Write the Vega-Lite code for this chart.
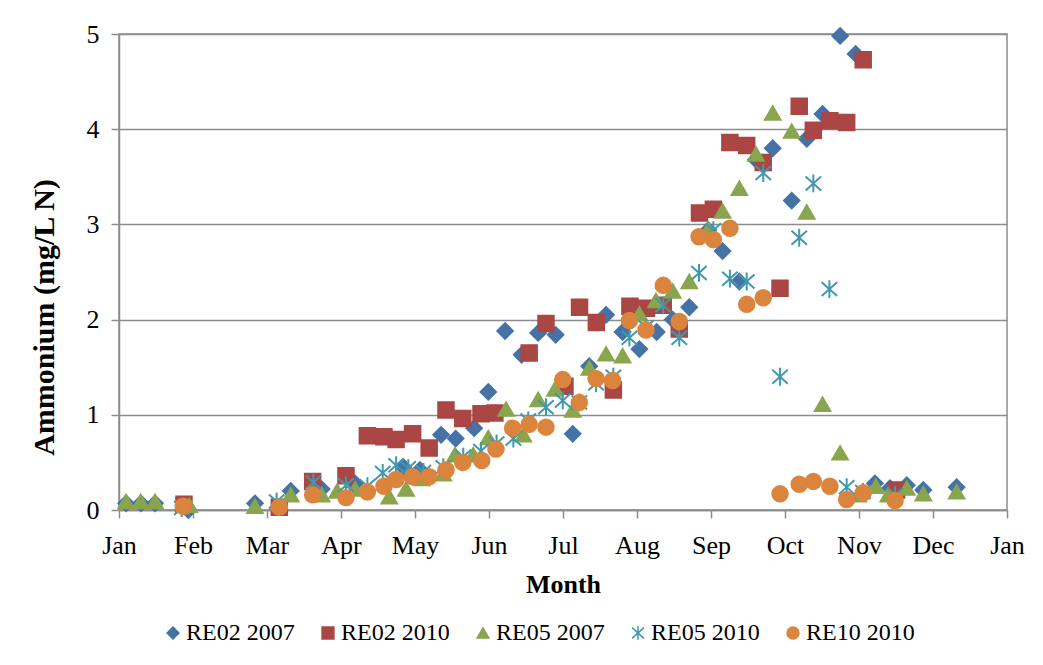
{
  "$schema": "https://vega.github.io/schema/vega-lite/v6.json",
  "width": 888,
  "height": 476,
  "autosize": {"type": "none"},
  "padding": {"left": 119, "top": 34, "right": 36, "bottom": 155},
  "background": "white",
  "config": {
    "font": "Liberation Serif",
    "style": {"guide-label": {"font": "Liberation Serif", "fill": "black"}, "guide-title": {"font": "Liberation Serif"}},
    "view": {"stroke": "#8c8c8c", "strokeWidth": 1.5},
    "axis": {"labelFont": "Liberation Serif", "titleFont": "Liberation Serif", "labelColor": "black", "titleColor": "black"},
    "legend": {"labelFont": "Liberation Serif", "labelFontSize": 24, "labelColor": "black"}
  },
  "datasets": {
    "pts": [
      {"series": "RE02 2007", "day": 2.9, "value": 0.07},
      {"series": "RE02 2007", "day": 9.0, "value": 0.07},
      {"series": "RE02 2007", "day": 14.8, "value": 0.07},
      {"series": "RE02 2007", "day": 28.5, "value": 0.0},
      {"series": "RE02 2007", "day": 55.9, "value": 0.07},
      {"series": "RE02 2007", "day": 70.6, "value": 0.20},
      {"series": "RE02 2007", "day": 83.3, "value": 0.22},
      {"series": "RE02 2007", "day": 97.0, "value": 0.28},
      {"series": "RE02 2007", "day": 116.9, "value": 0.45},
      {"series": "RE02 2007", "day": 123.7, "value": 0.42},
      {"series": "RE02 2007", "day": 132.4, "value": 0.79},
      {"series": "RE02 2007", "day": 138.4, "value": 0.75},
      {"series": "RE02 2007", "day": 146.0, "value": 0.86},
      {"series": "RE02 2007", "day": 151.8, "value": 1.24},
      {"series": "RE02 2007", "day": 158.7, "value": 1.88},
      {"series": "RE02 2007", "day": 165.5, "value": 1.63},
      {"series": "RE02 2007", "day": 172.3, "value": 1.86},
      {"series": "RE02 2007", "day": 179.5, "value": 1.84},
      {"series": "RE02 2007", "day": 186.5, "value": 0.80},
      {"series": "RE02 2007", "day": 193.3, "value": 1.51},
      {"series": "RE02 2007", "day": 200.2, "value": 2.05},
      {"series": "RE02 2007", "day": 207.0, "value": 1.87},
      {"series": "RE02 2007", "day": 213.9, "value": 1.69},
      {"series": "RE02 2007", "day": 221.0, "value": 1.87},
      {"series": "RE02 2007", "day": 227.6, "value": 2.00},
      {"series": "RE02 2007", "day": 234.4, "value": 2.13},
      {"series": "RE02 2007", "day": 242.2, "value": 2.94},
      {"series": "RE02 2007", "day": 248.1, "value": 2.72},
      {"series": "RE02 2007", "day": 255.0, "value": 2.40},
      {"series": "RE02 2007", "day": 261.8, "value": 3.68},
      {"series": "RE02 2007", "day": 268.7, "value": 3.80},
      {"series": "RE02 2007", "day": 276.5, "value": 3.25},
      {"series": "RE02 2007", "day": 282.7, "value": 3.90},
      {"series": "RE02 2007", "day": 289.2, "value": 4.16},
      {"series": "RE02 2007", "day": 296.4, "value": 4.98},
      {"series": "RE02 2007", "day": 302.8, "value": 4.79},
      {"series": "RE02 2007", "day": 310.7, "value": 0.28},
      {"series": "RE02 2007", "day": 316.9, "value": 0.23},
      {"series": "RE02 2007", "day": 323.8, "value": 0.26},
      {"series": "RE02 2007", "day": 330.6, "value": 0.21},
      {"series": "RE02 2007", "day": 344.3, "value": 0.24},

      {"series": "RE02 2010", "day": 26.7, "value": 0.06},
      {"series": "RE02 2010", "day": 65.9, "value": 0.03},
      {"series": "RE02 2010", "day": 79.6, "value": 0.30},
      {"series": "RE02 2010", "day": 93.3, "value": 0.36},
      {"series": "RE02 2010", "day": 102.1, "value": 0.78},
      {"series": "RE02 2010", "day": 108.9, "value": 0.77},
      {"series": "RE02 2010", "day": 113.9, "value": 0.74},
      {"series": "RE02 2010", "day": 120.7, "value": 0.80},
      {"series": "RE02 2010", "day": 127.5, "value": 0.65},
      {"series": "RE02 2010", "day": 134.4, "value": 1.05},
      {"series": "RE02 2010", "day": 141.3, "value": 0.96},
      {"series": "RE02 2010", "day": 148.8, "value": 1.01},
      {"series": "RE02 2010", "day": 154.5, "value": 1.02},
      {"series": "RE02 2010", "day": 168.6, "value": 1.65},
      {"series": "RE02 2010", "day": 175.5, "value": 1.96},
      {"series": "RE02 2010", "day": 183.3, "value": 1.30},
      {"series": "RE02 2010", "day": 189.3, "value": 2.13},
      {"series": "RE02 2010", "day": 196.2, "value": 1.97},
      {"series": "RE02 2010", "day": 203.2, "value": 1.26},
      {"series": "RE02 2010", "day": 210.0, "value": 2.14},
      {"series": "RE02 2010", "day": 216.8, "value": 2.12},
      {"series": "RE02 2010", "day": 223.7, "value": 2.15},
      {"series": "RE02 2010", "day": 230.3, "value": 1.90},
      {"series": "RE02 2010", "day": 238.6, "value": 3.12},
      {"series": "RE02 2010", "day": 244.3, "value": 3.16},
      {"series": "RE02 2010", "day": 251.1, "value": 3.86},
      {"series": "RE02 2010", "day": 258.0, "value": 3.83},
      {"series": "RE02 2010", "day": 264.8, "value": 3.65},
      {"series": "RE02 2010", "day": 271.7, "value": 2.33},
      {"series": "RE02 2010", "day": 279.6, "value": 4.24},
      {"series": "RE02 2010", "day": 285.4, "value": 3.99},
      {"series": "RE02 2010", "day": 292.2, "value": 4.09},
      {"series": "RE02 2010", "day": 299.1, "value": 4.07},
      {"series": "RE02 2010", "day": 305.9, "value": 4.73},
      {"series": "RE02 2010", "day": 319.6, "value": 0.21},

      {"series": "RE05 2007", "day": 2.9, "value": 0.09},
      {"series": "RE05 2007", "day": 8.9, "value": 0.09},
      {"series": "RE05 2007", "day": 14.8, "value": 0.09},
      {"series": "RE05 2007", "day": 28.9, "value": 0.05},
      {"series": "RE05 2007", "day": 55.9, "value": 0.04},
      {"series": "RE05 2007", "day": 70.6, "value": 0.16},
      {"series": "RE05 2007", "day": 83.3, "value": 0.16},
      {"series": "RE05 2007", "day": 89.7, "value": 0.20},
      {"series": "RE05 2007", "day": 97.0, "value": 0.22},
      {"series": "RE05 2007", "day": 111.1, "value": 0.14},
      {"series": "RE05 2007", "day": 118.0, "value": 0.22},
      {"series": "RE05 2007", "day": 124.4, "value": 0.33},
      {"series": "RE05 2007", "day": 133.3, "value": 0.38},
      {"series": "RE05 2007", "day": 138.1, "value": 0.58},
      {"series": "RE05 2007", "day": 145.6, "value": 0.58},
      {"series": "RE05 2007", "day": 151.8, "value": 0.76},
      {"series": "RE05 2007", "day": 159.1, "value": 1.06},
      {"series": "RE05 2007", "day": 166.2, "value": 0.79},
      {"series": "RE05 2007", "day": 172.3, "value": 1.16},
      {"series": "RE05 2007", "day": 179.2, "value": 1.27},
      {"series": "RE05 2007", "day": 186.5, "value": 1.05},
      {"series": "RE05 2007", "day": 193.3, "value": 1.49},
      {"series": "RE05 2007", "day": 200.2, "value": 1.64},
      {"series": "RE05 2007", "day": 207.0, "value": 1.62},
      {"series": "RE05 2007", "day": 213.9, "value": 2.06},
      {"series": "RE05 2007", "day": 220.7, "value": 2.20},
      {"series": "RE05 2007", "day": 227.6, "value": 2.30},
      {"series": "RE05 2007", "day": 234.4, "value": 2.40},
      {"series": "RE05 2007", "day": 242.2, "value": 2.95},
      {"series": "RE05 2007", "day": 248.1, "value": 3.14},
      {"series": "RE05 2007", "day": 255.0, "value": 3.38},
      {"series": "RE05 2007", "day": 261.8, "value": 3.74},
      {"series": "RE05 2007", "day": 268.7, "value": 4.17},
      {"series": "RE05 2007", "day": 276.5, "value": 3.98},
      {"series": "RE05 2007", "day": 282.7, "value": 3.13},
      {"series": "RE05 2007", "day": 289.2, "value": 1.11},
      {"series": "RE05 2007", "day": 296.4, "value": 0.60},
      {"series": "RE05 2007", "day": 303.9, "value": 0.16},
      {"series": "RE05 2007", "day": 311.1, "value": 0.25},
      {"series": "RE05 2007", "day": 316.2, "value": 0.16},
      {"series": "RE05 2007", "day": 323.8, "value": 0.23},
      {"series": "RE05 2007", "day": 330.6, "value": 0.17},
      {"series": "RE05 2007", "day": 344.3, "value": 0.19},

      {"series": "RE05 2010", "day": 25.8, "value": 0.02},
      {"series": "RE05 2010", "day": 64.8, "value": 0.09},
      {"series": "RE05 2010", "day": 79.9, "value": 0.29},
      {"series": "RE05 2010", "day": 93.3, "value": 0.26},
      {"series": "RE05 2010", "day": 102.1, "value": 0.25},
      {"series": "RE05 2010", "day": 108.4, "value": 0.39},
      {"series": "RE05 2010", "day": 113.9, "value": 0.47},
      {"series": "RE05 2010", "day": 118.9, "value": 0.44},
      {"series": "RE05 2010", "day": 125.1, "value": 0.40},
      {"series": "RE05 2010", "day": 133.3, "value": 0.45},
      {"series": "RE05 2010", "day": 141.5, "value": 0.56},
      {"series": "RE05 2010", "day": 148.8, "value": 0.62},
      {"series": "RE05 2010", "day": 155.2, "value": 0.70},
      {"series": "RE05 2010", "day": 162.1, "value": 0.75},
      {"series": "RE05 2010", "day": 168.2, "value": 0.94},
      {"series": "RE05 2010", "day": 175.5, "value": 1.08},
      {"series": "RE05 2010", "day": 182.4, "value": 1.15},
      {"series": "RE05 2010", "day": 189.2, "value": 1.13},
      {"series": "RE05 2010", "day": 196.1, "value": 1.33},
      {"series": "RE05 2010", "day": 203.2, "value": 1.40},
      {"series": "RE05 2010", "day": 209.8, "value": 1.81},
      {"series": "RE05 2010", "day": 216.6, "value": 1.92},
      {"series": "RE05 2010", "day": 223.7, "value": 2.15},
      {"series": "RE05 2010", "day": 230.3, "value": 1.81},
      {"series": "RE05 2010", "day": 238.4, "value": 2.49},
      {"series": "RE05 2010", "day": 244.3, "value": 2.94},
      {"series": "RE05 2010", "day": 251.1, "value": 2.43},
      {"series": "RE05 2010", "day": 258.0, "value": 2.40},
      {"series": "RE05 2010", "day": 264.8, "value": 3.54},
      {"series": "RE05 2010", "day": 271.7, "value": 1.40},
      {"series": "RE05 2010", "day": 279.6, "value": 2.86},
      {"series": "RE05 2010", "day": 285.4, "value": 3.43},
      {"series": "RE05 2010", "day": 292.0, "value": 2.32},
      {"series": "RE05 2010", "day": 299.1, "value": 0.24},
      {"series": "RE05 2010", "day": 305.8, "value": 0.19},
      {"series": "RE05 2010", "day": 319.0, "value": 0.16},

      {"series": "RE10 2010", "day": 26.4, "value": 0.04},
      {"series": "RE10 2010", "day": 65.9, "value": 0.03},
      {"series": "RE10 2010", "day": 79.6, "value": 0.16},
      {"series": "RE10 2010", "day": 93.3, "value": 0.13},
      {"series": "RE10 2010", "day": 102.1, "value": 0.19},
      {"series": "RE10 2010", "day": 108.9, "value": 0.25},
      {"series": "RE10 2010", "day": 113.9, "value": 0.32},
      {"series": "RE10 2010", "day": 120.7, "value": 0.35},
      {"series": "RE10 2010", "day": 127.5, "value": 0.35},
      {"series": "RE10 2010", "day": 134.4, "value": 0.42},
      {"series": "RE10 2010", "day": 141.3, "value": 0.50},
      {"series": "RE10 2010", "day": 149.1, "value": 0.52},
      {"series": "RE10 2010", "day": 154.9, "value": 0.64},
      {"series": "RE10 2010", "day": 161.8, "value": 0.86},
      {"series": "RE10 2010", "day": 168.6, "value": 0.90},
      {"series": "RE10 2010", "day": 175.5, "value": 0.87},
      {"series": "RE10 2010", "day": 182.4, "value": 1.37},
      {"series": "RE10 2010", "day": 189.2, "value": 1.13},
      {"series": "RE10 2010", "day": 196.1, "value": 1.38},
      {"series": "RE10 2010", "day": 202.9, "value": 1.36},
      {"series": "RE10 2010", "day": 209.8, "value": 1.99},
      {"series": "RE10 2010", "day": 216.6, "value": 1.89},
      {"series": "RE10 2010", "day": 223.7, "value": 2.36},
      {"series": "RE10 2010", "day": 230.3, "value": 1.98},
      {"series": "RE10 2010", "day": 238.4, "value": 2.87},
      {"series": "RE10 2010", "day": 244.3, "value": 2.84},
      {"series": "RE10 2010", "day": 251.1, "value": 2.96},
      {"series": "RE10 2010", "day": 258.0, "value": 2.16},
      {"series": "RE10 2010", "day": 264.8, "value": 2.23},
      {"series": "RE10 2010", "day": 271.7, "value": 0.17},
      {"series": "RE10 2010", "day": 279.6, "value": 0.27},
      {"series": "RE10 2010", "day": 285.4, "value": 0.30},
      {"series": "RE10 2010", "day": 292.2, "value": 0.25},
      {"series": "RE10 2010", "day": 299.1, "value": 0.11},
      {"series": "RE10 2010", "day": 305.9, "value": 0.18},
      {"series": "RE10 2010", "day": 319.0, "value": 0.10}
    ]
  },
  "data": {"name": "pts"},
  "mark": {"type": "point", "filled": true, "opacity": 1, "strokeWidth": 2, "size": 240, "clip": false},
  "encoding": {
    "x": {
      "field": "day",
      "type": "quantitative",
      "scale": {"domain": [0, 365], "nice": false, "zero": false},
      "axis": {
        "title": "Month",
        "values": [0, 30.4167, 60.8333, 91.25, 121.6667, 152.0833, 182.5, 212.9167, 243.3333, 273.75, 304.1667, 334.5833, 365],
        "labelExpr": "['Jan','Feb','Mar','Apr','May','Jun','Jul','Aug','Sep','Oct','Nov','Dec','Jan'][round(datum.value / 30.4167)]",
        "grid": false,
        "domainColor": "#8c8c8c",
        "domainWidth": 1.5,
        "tickColor": "#8c8c8c",
        "tickWidth": 1.5,
        "tickSize": 8,
        "labelFontSize": 26,
        "labelPadding": 14,
        "labelFlush": false,
        "labelOverlap": false,
        "titleFontSize": 26,
        "titleFontWeight": "bold",
        "titlePadding": 13
      }
    },
    "y": {
      "field": "value",
      "type": "quantitative",
      "scale": {"domain": [0, 5], "nice": false},
      "axis": {
        "title": "Ammonium (mg/L N)",
        "values": [0, 1, 2, 3, 4, 5],
        "grid": true,
        "gridColor": "#8c8c8c",
        "gridWidth": 1.5,
        "domainColor": "#8c8c8c",
        "domainWidth": 1.5,
        "tickColor": "#8c8c8c",
        "tickWidth": 1.5,
        "tickSize": 8,
        "labelFontSize": 26,
        "labelPadding": 12,
        "labelFlush": false,
        "titleFontSize": 30,
        "titleFontWeight": "bold",
        "titleX": -75,
        "titleY": 283,
        "titleBaseline": "middle",
        "titleAngle": 270
      }
    },
    "fill": {
      "field": "series",
      "type": "nominal",
      "title": null,
      "scale": {
        "domain": ["RE02 2007", "RE02 2010", "RE05 2007", "RE05 2010", "RE10 2010"],
        "range": ["#4572A7", "#AA4643", "#89A54E", "#4198AF", "#DB843D"]
      },
      "legend": {
        "orient": "none",
        "direction": "horizontal",
        "columns": 5,
        "legendX": 42,
        "legendY": 587,
        "labelFontSize": 24,
        "labelFont": "Liberation Serif",
        "labelColor": "black",
        "symbolSize": 140,
        "symbolStrokeWidth": 1.5,
        "labelOffset": 1,
        "columnPadding": 21
      }
    },
    "stroke": {
      "field": "series",
      "type": "nominal",
      "title": null,
      "scale": {
        "domain": ["RE02 2007", "RE02 2010", "RE05 2007", "RE05 2010", "RE10 2010"],
        "range": ["#4572A7", "#AA4643", "#89A54E", "#4198AF", "#DB843D"]
      },
      "legend": {
        "orient": "none",
        "direction": "horizontal",
        "columns": 5,
        "legendX": 42,
        "legendY": 587,
        "labelFontSize": 24,
        "labelFont": "Liberation Serif",
        "labelColor": "black",
        "symbolSize": 140,
        "symbolStrokeWidth": 1.5,
        "labelOffset": 1,
        "columnPadding": 21
      }
    },
    "shape": {
      "field": "series",
      "type": "nominal",
      "title": null,
      "scale": {
        "domain": ["RE02 2007", "RE02 2010", "RE05 2007", "RE05 2010", "RE10 2010"],
        "range": ["diamond", "square", "triangle-up", "M-1,-0.9L1,0.9M-1,0.9L1,-0.9M0,-1.15L0,1.15", "circle"]
      },
      "legend": {
        "orient": "none",
        "direction": "horizontal",
        "columns": 5,
        "legendX": 42,
        "legendY": 587,
        "labelFontSize": 24,
        "labelFont": "Liberation Serif",
        "labelColor": "black",
        "symbolSize": 140,
        "symbolStrokeWidth": 1.5,
        "labelOffset": 1,
        "columnPadding": 21
      }
    }
  }
}
